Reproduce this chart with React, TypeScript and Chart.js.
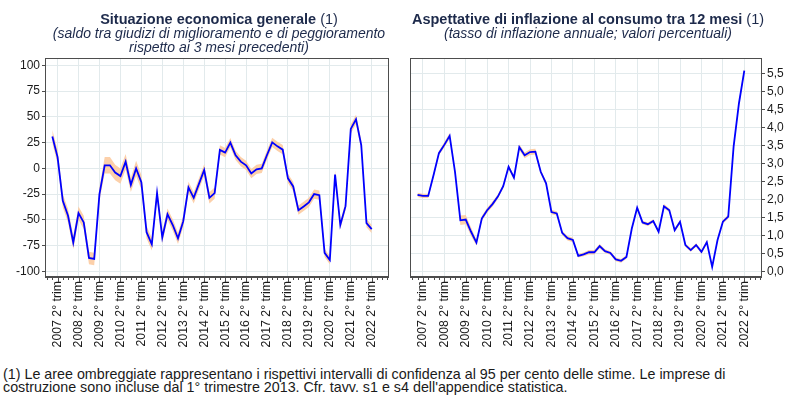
import React, { useEffect, useRef } from "react";
import { Chart, registerables } from "chart.js";

Chart.register(...registerables);

// ---- DATA ----
// quarterly points from 2007 Q1 to 2022 Q2 (index 0 = 2007 Q1)
const yearTickIndex = [1, 5, 9, 13, 17, 21, 25, 29, 33, 37, 41, 45, 49, 53, 57, 61];
const xTickLabels = [
  "2007 2° trim", "2008 2° trim", "2009 2° trim", "2010 2° trim",
  "2011 2° trim", "2012 2° trim", "2013 2° trim", "2014 2° trim",
  "2015 2° trim", "2016 2° trim", "2017 2° trim", "2018 2° trim",
  "2019 2° trim", "2020 2° trim", "2021 2° trim", "2022 2° trim",
];

const leftValues = [
  31, 11, -31.5, -46, -72, -43.5, -52.5, -87, -88, -25,
  3, 3, -4, -7.5, 6.5, -16, 0, -13.5, -62, -73.7,
  -24, -67, -44.5, -55, -68, -51.5, -18.5, -28.6, -15, -1.6,
  -28.6, -24, 17.9, 15.3, 25, 12.7, 6.5, 3, -5, -1,
  0, 13, 25.3, 21.4, 18.2, -9.7, -17.5, -40.6, -37, -33,
  -25, -26, -82, -89, -6, -55, -36.7, 38.3, 47.7, 22.7,
  -53.2, -59,
];
const leftBand = [
  6.5, 6.5, 6.5, 6.5, 6.5, 6.5, 6.5, 6, 6, 6.5,
  8, 8, 7.5, 7.5, 7.5, 7, 7.5, 7, 6, 6,
  5.5, 5.5, 5.5, 5.5, 5.5, 5.5, 5.5, 5.5, 5.5, 5.5,
  5.5, 5.5, 4.5, 4.5, 4.5, 4.5, 4.5, 4.5, 4.5, 4.5,
  4.5, 4.5, 4.5, 4.5, 4.5, 4.5, 4.5, 4.5, 4.5, 4.5,
  4.5, 4.5, 4, 4, 4, 4, 4, 4.5, 4.5, 4.5,
  4, 4,
];

const rightValues = [
  2.13, 2.1, 2.1, 2.68, 3.29, 3.52, 3.77, 2.77, 1.42, 1.44,
  1.1, 0.8, 1.47, 1.7, 1.87, 2.08, 2.37, 2.91, 2.61, 3.46,
  3.23, 3.32, 3.33, 2.77, 2.45, 1.65, 1.61, 1.07, 0.92, 0.87,
  0.43, 0.47, 0.53, 0.53, 0.7, 0.56, 0.51, 0.33, 0.29, 0.4,
  1.19, 1.77, 1.36, 1.31, 1.4, 1.1, 1.81, 1.7, 1.14, 1.38,
  0.73, 0.59, 0.73, 0.54, 0.81, 0.12, 0.87, 1.38, 1.52, 3.47,
  4.68, 5.59,
];
const rightBand = [
  0.06, 0.06, 0.06, 0.06, 0.06, 0.07, 0.08, 0.07, 0.13, 0.13,
  0.12, 0.08, 0.07, 0.07, 0.07, 0.06, 0.06, 0.06, 0.06, 0.08,
  0.08, 0.08, 0.08, 0.06, 0.06, 0.06, 0.06, 0.06, 0.06, 0.06,
  0.05, 0.05, 0.06, 0.06, 0.06, 0.05, 0.05, 0.05, 0.05, 0.05,
  0.05, 0.06, 0.05, 0.05, 0.05, 0.05, 0.06, 0.05, 0.05, 0.05,
  0.05, 0.05, 0.05, 0.05, 0.06, 0.05, 0.05, 0.05, 0.06, 0.06,
  0.07, 0.09,
];

const leftYTicks = [-100, -75, -50, -25, 0, 25, 50, 75, 100];
const rightYTicks = [0, 0.5, 1, 1.5, 2, 2.5, 3, 3.5, 4, 4.5, 5, 5.5];

// ---- STYLE ----
const FONT = "'Liberation Sans', Arial, Helvetica, sans-serif";
const NAVY = "#1d2a4b";
const GRID = "#e2eaec";
const FRAME = "#4d4d4d";
const LINE = "#0000ff";
const BAND = "rgba(252, 200, 155, 0.85)";

const framePlugin = {
  id: "frameTicks",
  afterDraw(chart: any) {
    const { ctx, chartArea: a } = chart;
    const x = chart.scales.x;
    ctx.save();
    ctx.strokeStyle = FRAME;
    ctx.lineWidth = 1;
    ctx.strokeRect(a.left + 0.5, a.top + 0.5, a.right - a.left - 1, a.bottom - a.top - 1);
    ctx.lineWidth = 2;
    ctx.beginPath();
    ctx.moveTo(a.left, a.bottom);
    ctx.lineTo(a.right, a.bottom);
    ctx.stroke();
    ctx.lineWidth = 1;
    ctx.beginPath();
    for (let i = Math.ceil(x.min); i <= Math.floor(x.max); i++) {
      const px = Math.round(x.getPixelForValue(i)) + 0.5;
      const len = yearTickIndex.includes(i) ? 5 : 3;
      ctx.moveTo(px, a.bottom);
      ctx.lineTo(px, a.bottom + len);
    }
    ctx.stroke();
    ctx.restore();
  },
};

function makeConfig(
  values: number[],
  band: number[],
  yTicks: number[],
  yMin: number,
  yMax: number,
  side: "left" | "right",
  fmt: (v: number) => string,
  padLeft: number,
  padRight: number,
  yWidth: number
): any {
  const pts = values.map((v, i) => ({ x: i, y: v }));
  const up = values.map((v, i) => ({ x: i, y: v + band[i] }));
  const lo = values.map((v, i) => ({ x: i, y: v - band[i] }));
  return {
    type: "line",
    data: {
      datasets: [
        { data: pts, borderColor: LINE, borderWidth: 1.8, pointRadius: 0, fill: false, tension: 0 },
        { data: up, borderWidth: 0, borderColor: "rgba(0,0,0,0)", pointRadius: 0, fill: "+1", backgroundColor: BAND, tension: 0 },
        { data: lo, borderWidth: 0, borderColor: "rgba(0,0,0,0)", pointRadius: 0, fill: false, tension: 0 },
      ],
    },
    options: {
      animation: false,
      responsive: false,
      events: [],
      layout: { padding: { left: padLeft, right: padRight, top: 58, bottom: 0 } },
      plugins: { legend: { display: false }, tooltip: { enabled: false }, title: { display: false } },
      scales: {
        x: {
          type: "linear",
          min: -1.4,
          max: 64.3,
          afterBuildTicks: (s: any) => {
            s.ticks = yearTickIndex.map((v) => ({ value: v }));
          },
          afterFit: (s: any) => {
            s.height = 83;
          },
          grid: { color: GRID, drawTicks: false, lineWidth: 1 },
          border: { display: false },
          ticks: {
            autoSkip: false,
            maxRotation: 90,
            minRotation: 90,
            padding: 4,
            color: "#1a1a1a",
            font: { family: FONT, size: 12.3 },
            callback: (_v: any, i: number) => xTickLabels[i],
          },
        },
        y: {
          type: "linear",
          position: side,
          min: yMin,
          max: yMax,
          afterBuildTicks: (s: any) => {
            s.ticks = yTicks.map((v) => ({ value: v }));
          },
          afterFit: (s: any) => {
            s.width = yWidth;
          },
          grid: { color: GRID, tickColor: FRAME, tickLength: 3, drawTicks: true, lineWidth: 1 },
          border: { display: false },
          ticks: {
            padding: 2,
            color: "#1a1a1a",
            font: { family: FONT, size: 12 },
            callback: (v: any) => fmt(Number(v)),
          },
        },
      },
    },
    plugins: [framePlugin],
  };
}

function ChartCanvas({ config, left }: { config: () => any; left: number }) {
  const ref = useRef<HTMLCanvasElement | null>(null);
  useEffect(() => {
    if (!ref.current) return;
    const c = new Chart(ref.current, config());
    return () => c.destroy();
  }, []);
  return (
    <canvas
      ref={ref}
      width={400}
      height={360}
      style={{ position: "absolute", left, top: 0, width: 400, height: 360 }}
    />
  );
}

export default function App() {
  const titleBase: React.CSSProperties = {
    position: "absolute",
    width: 400,
    textAlign: "center",
    color: NAVY,
    fontFamily: FONT,
    whiteSpace: "nowrap",
  };
  return (
    <div
      style={{
        position: "absolute",
        left: 0,
        top: 0,
        width: 800,
        height: 400,
        background: "#fff",
        overflow: "hidden",
      }}
    >
      <ChartCanvas
        left={0}
        config={() =>
          makeConfig(leftValues, leftBand, leftYTicks, -105.5, 107.2, "left", (v) => String(v), 0, 11, 45)
        }
      />
      <ChartCanvas
        left={400}
        config={() =>
          makeConfig(
            rightValues,
            rightBand,
            rightYTicks,
            -0.16,
            5.94,
            "right",
            (v) => v.toFixed(1).replace(".", ","),
            10,
            0,
            38
          )
        }
      />
      <div style={{ ...titleBase, left: 219 - 200, top: 12 }}>
        <div style={{ fontSize: 14.5, lineHeight: "14px" }}>
          <b>Situazione economica generale</b> (1)
        </div>
        <div style={{ fontSize: 14, lineHeight: "14px", fontStyle: "italic" }}>
          (saldo tra giudizi di miglioramento e di peggioramento
        </div>
        <div style={{ fontSize: 14, lineHeight: "14px", fontStyle: "italic" }}>
          rispetto ai 3 mesi precedenti)
        </div>
      </div>
      <div style={{ ...titleBase, left: 588 - 200, top: 12 }}>
        <div style={{ fontSize: 14.5, lineHeight: "14px" }}>
          <b>Aspettative di inflazione al consumo tra 12 mesi</b> (1)
        </div>
        <div style={{ fontSize: 14, lineHeight: "14px", fontStyle: "italic" }}>
          (tasso di inflazione annuale; valori percentuali)
        </div>
      </div>
      <div
        style={{
          position: "absolute",
          left: 3,
          top: 368,
          fontFamily: FONT,
          fontSize: 14.3,
          lineHeight: "12.8px",
          color: "#1a1a1a",
          whiteSpace: "nowrap",
        }}
      >
        <div>
          (1) Le aree ombreggiate rappresentano i rispettivi intervalli di confidenza al 95 per cento delle stime. Le imprese di
        </div>
        <div>costruzione sono incluse dal 1° trimestre 2013. Cfr. tavv. s1 e s4 dell'appendice statistica.</div>
      </div>
    </div>
  );
}
